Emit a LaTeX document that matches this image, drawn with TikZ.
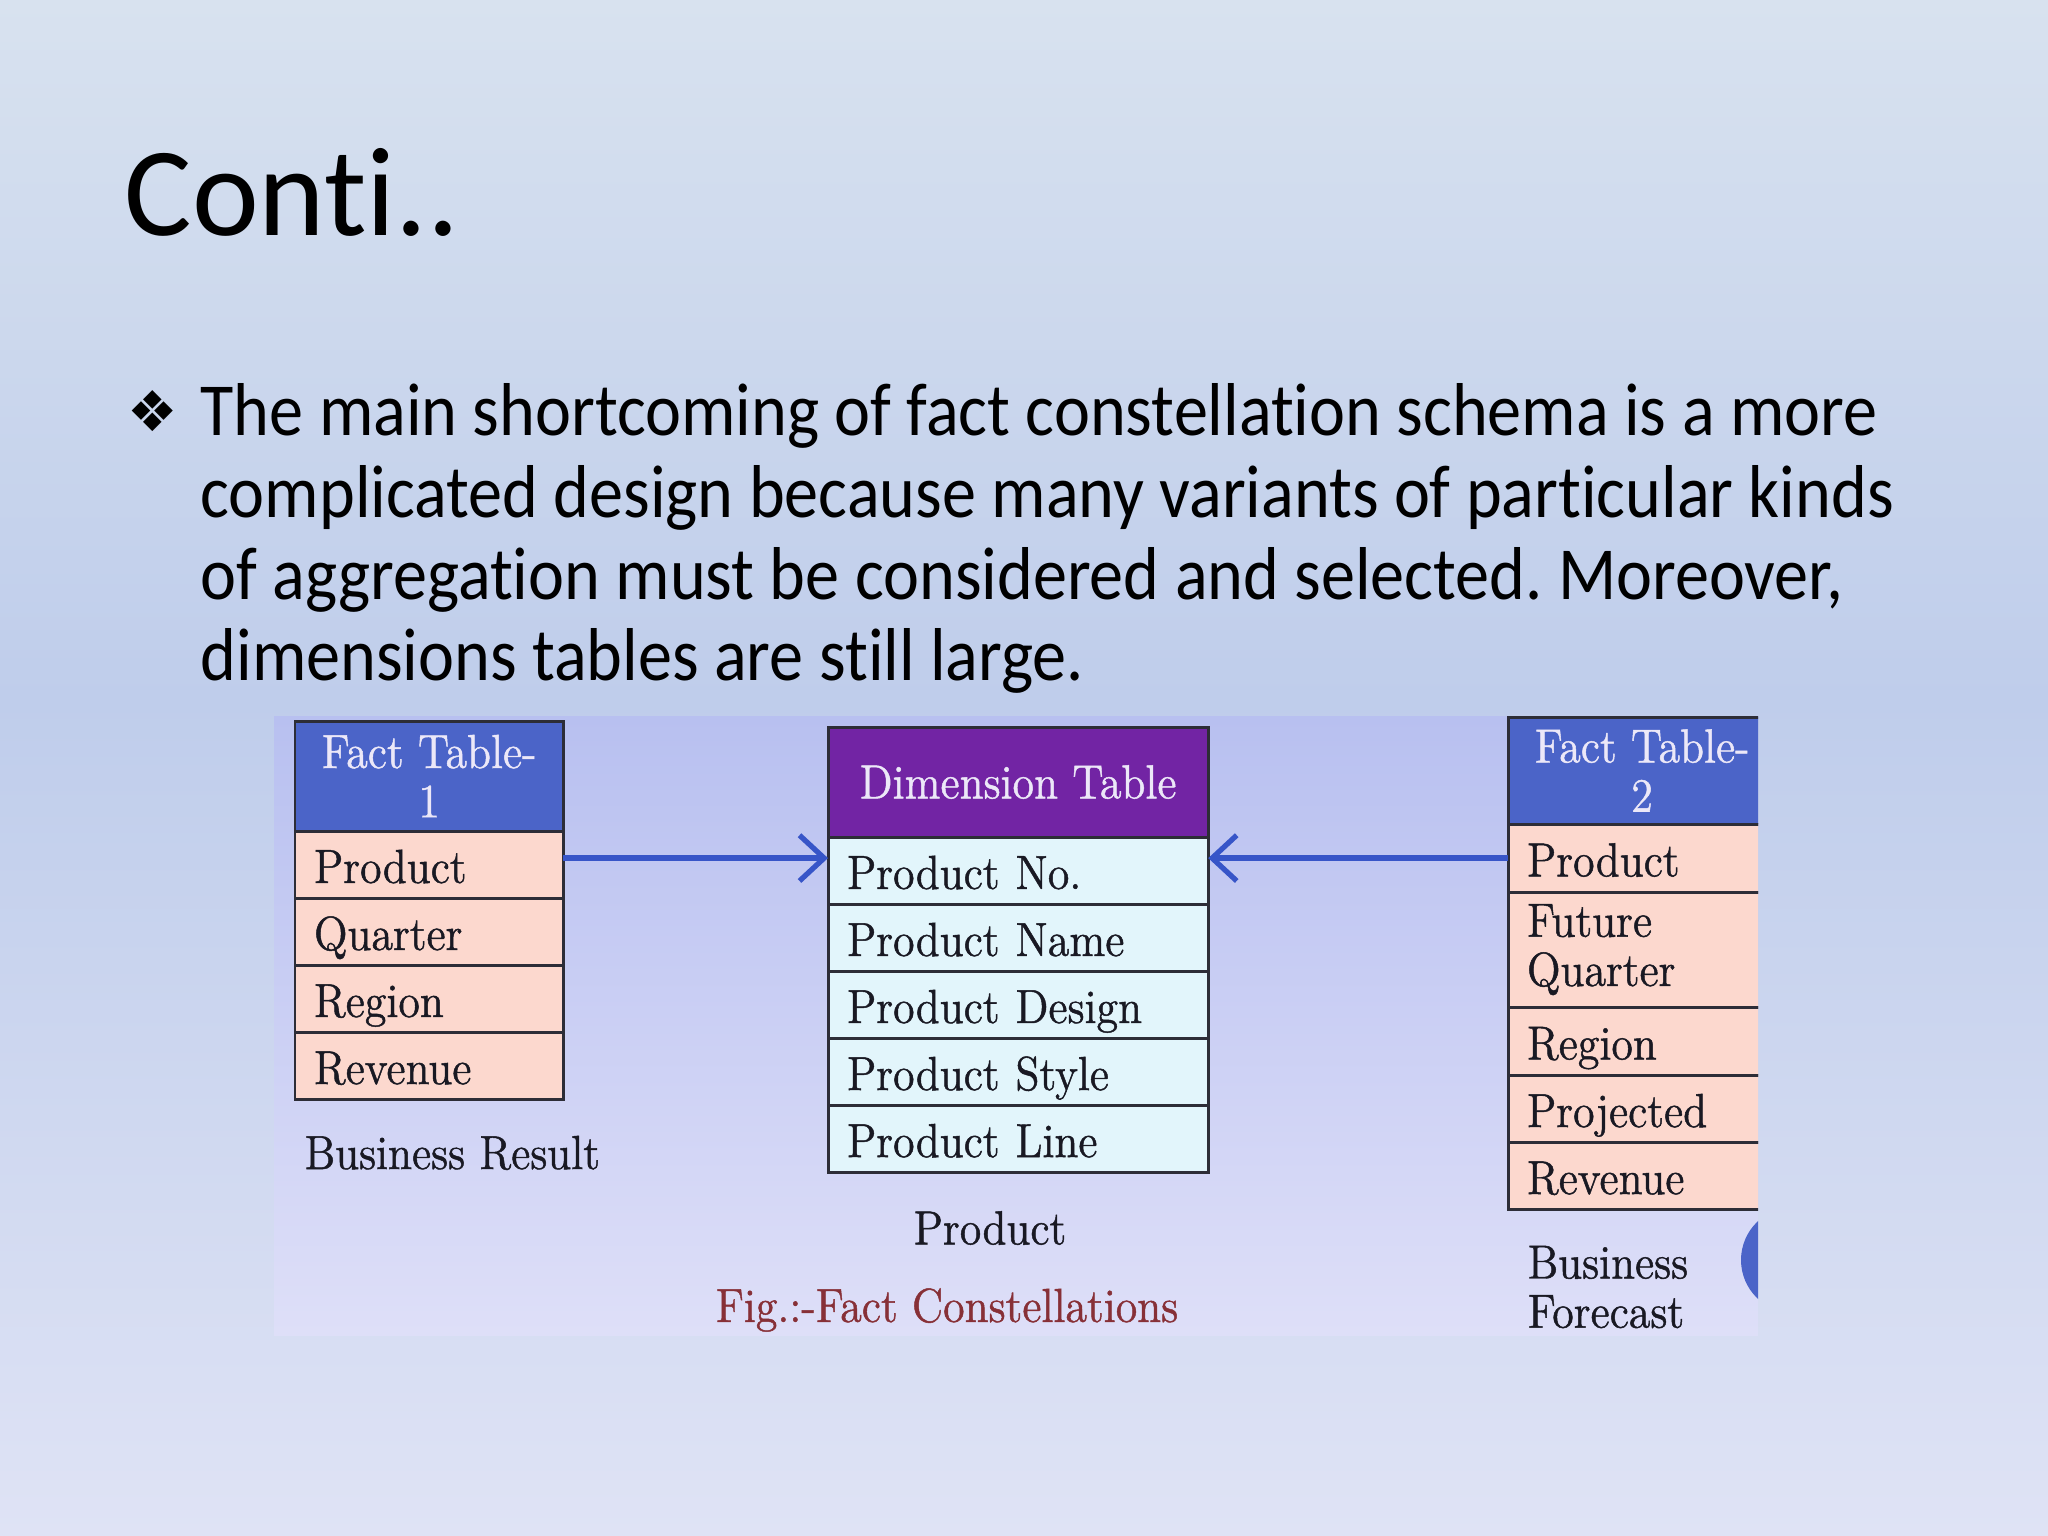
\documentclass[tikz,border=0pt]{standalone}
\usepackage{fontspec}
\usetikzlibrary{positioning,arrows.meta}
\newfontfamily\titlefont[Ligatures=NoCommon]{Carlito}
\newfontfamily\slidefont[Ligatures=NoCommon,FakeStretch=0.91]{Carlito}
\newfontfamily\diagfont[FakeStretch=0.92,FakeBold=1]{lmroman12-regular.otf}
\newfontfamily\dingfont{DejaVu Sans}
\definecolor{bgtop}{RGB}{216,226,239}
\definecolor{bgmid}{RGB}{191,205,235}
\definecolor{bgbot}{RGB}{223,227,245}
\definecolor{imgtop}{RGB}{184,192,240}
\definecolor{imgbot}{RGB}{222,223,248}
\definecolor{facthead}{RGB}{75,100,200}
\definecolor{dimhead}{RGB}{114,36,164}
\definecolor{factcell}{RGB}{252,216,206}
\definecolor{dimcell}{RGB}{226,245,251}
\definecolor{gridline}{RGB}{45,45,55}
\definecolor{linkblue}{RGB}{55,85,200}
\definecolor{headtext}{RGB}{236,232,248}
\definecolor{figred}{RGB}{135,48,55}
\definecolor{celltext}{RGB}{25,25,35}
\frenchspacing
\tikzset{
  tabfont/.style={font=\diagfont\fontsize{13.6}{14}\selectfont},
  bodytext/.style={anchor=base west, inner sep=0pt, font=\slidefont\fontsize{21.3}{26}\selectfont},
  cell/.style={draw=gridline, line width=0.85pt, outer sep=0pt, tabfont, text=celltext},
  tabhead/.style={cell, anchor=north west, align=center, text=headtext, minimum width=#1},
  factrow/.style={cell, fill=factcell, text width=2.30cm, inner xsep=0.19cm, align=left},
  dimrow/.style={cell, fill=dimcell, text width=3.42cm, inner xsep=0.19cm, align=left,
    minimum height=0.664cm, text height=11.4pt, text depth=1pt},
  onerow/.style={text height=11.4pt, text depth=1pt},
  link/.style={->, draw=linkblue, line width=1.5pt},
}
\begin{document}
\begin{tikzpicture}[x=0.01cm, y=-0.01cm, >={Straight Barb[length=7pt,width=13pt,line width=1.5pt]}]
    \useasboundingbox (0,0) rectangle (2048,1536);
    % slide background
    \shade [top color=bgtop, bottom color=bgmid] (0,0) rectangle (2048,700);
    \shade [top color=bgmid, bottom color=bgbot] (0,699) rectangle (2048,1536);
    \node [anchor=base west, inner sep=0pt, font=\titlefont\fontsize{36}{40}\selectfont] (title) at (124,235) {Conti..};
    \node [inner sep=0pt, font=\dingfont\fontsize{16}{16}\selectfont] (bullet) at (153,411) {❖};
    \node [bodytext] (line1) at (200,435) {The main shortcoming of fact constellation schema is a more};
    \node [bodytext] (line2) at (200,517) {complicated design because many variants of particular kinds};
    \node [bodytext] (line3) at (200,599) {of aggregation must be considered and selected. Moreover,};
    \node [bodytext] (line4) at (200,680) {dimensions tables are still large.};
    % figure area
    \shade [top color=imgtop, bottom color=imgbot] (274,716) rectangle (1758,1335);
    % fact table 1
    \node [tabhead=2.68cm, fill=facthead, minimum height=1.10cm] (f1h) at (295,721) {Fact Table-\\1};
    \node [factrow, onerow, minimum height=0.6625cm, below=0pt of f1h] (f1a) {Product};
    \node [factrow, onerow, minimum height=0.6625cm, below=0pt of f1a] (f1b) {Quarter};
    \node [factrow, onerow, minimum height=0.6625cm, below=0pt of f1b] (f1c) {Region};
    \node [factrow, onerow, minimum height=0.6625cm, below=0pt of f1c] (f1d) {Revenue};
    \node [tabfont, anchor=base west, inner sep=0pt, text=celltext] (f1name) at (304,1169) {Business Result};
    % dimension table
    \node [tabhead=3.80cm, fill=dimhead, minimum height=1.10cm] (dth) at (828,727) {Dimension Table};
    \node [dimrow, below=0pt of dth] (dta) {Product No.};
    \node [dimrow, below=0pt of dta] (dtb) {Product Name};
    \node [dimrow, below=0pt of dtb] (dtc) {Product Design};
    \node [dimrow, below=0pt of dtc] (dtd) {Product Style};
    \node [dimrow, below=0pt of dtd] (dte) {Product Line};
    \node [tabfont, text=celltext] (dtname) at (990,1228) {Product};
    \node [tabfont, text=figred] (figcap) at (947,1310) {Fig.:-Fact Constellations};
    % fact table 2 (cut by the figure edge)
    \begin{scope}
        \clip (274,716) rectangle (1758,1335);
        \node [tabhead=2.68cm, fill=facthead, minimum height=1.07cm] (f2h) at (1508,717) {Fact Table-\\2};
        \node [factrow, onerow, minimum height=0.68cm, below=0pt of f2h] (f2a) {Product};
        \node [factrow, minimum height=1.15cm, below=0pt of f2a] (f2b) {Future\\Quarter};
        \node [factrow, onerow, minimum height=0.68cm, below=0pt of f2b] (f2c) {Region};
        \node [factrow, onerow, minimum height=0.67cm, below=0pt of f2c] (f2d) {Projected};
        \node [factrow, onerow, minimum height=0.67cm, below=0pt of f2d] (f2e) {Revenue};
        \fill [facthead] (1794,1260) circle [radius=53];
    \end{scope}
    \node [tabfont, anchor=west, inner sep=0pt, align=left, text=celltext] (f2name) at (1527,1287) {Business\\Forecast};
    % links
    \draw [link] (f1a.east |- f2a.west) -- (dta.west |- f2a.west);
    \draw [link] (f2a.west) -- (dta.east |- f2a.west);
\end{tikzpicture}
\end{document}
